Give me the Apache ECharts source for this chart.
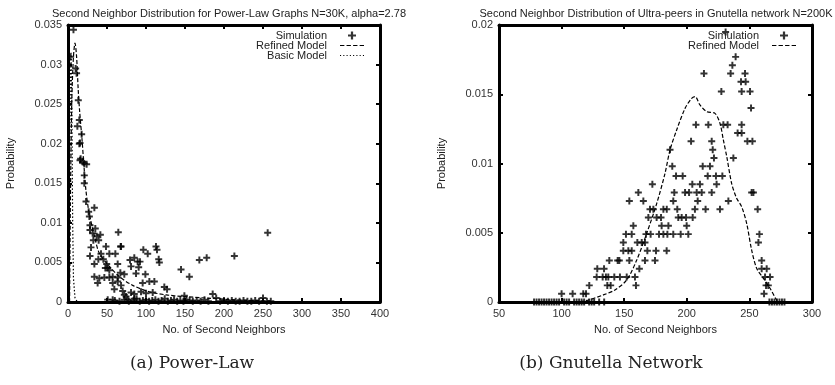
<!DOCTYPE html>
<html>
<head>
<meta charset="utf-8">
<script src="https://cdn.jsdelivr.net/npm/echarts@6/dist/echarts.min.js"></script>
<style>
  html, body { margin: 0; padding: 0; background: #fff; }
  #chart { width: 835px; height: 385px; }
</style>
</head>
<body>
<div id="chart"></div>
<script>
// (a) power-law graphs: simulation points
var plSimX = [7, 3.4, 9.8, 11, 13.2, 14.5, 12, 17.5, 15.4, 16.2,
  14.5, 15.4, 18.8, 20.9, 23.9, 20.9, 20.9, 23.1, 26.5, 33.8, 27.4, 28.2, 28.2, 35, 31.6,
  36.8, 41.5, 32.5, 39.3, 29.5, 48.7, 68, 64.5, 67.5, 28.2, 42.3, 53, 60.7, 38.9, 45.3, 33.8,
  49.6, 47.9, 79.5, 85, 89.3, 92.3, 80.8, 90.6, 96.6, 102.2, 112.8, 114.1, 116.3, 117.1,
  50.9, 53, 33.8, 40.2, 46.6, 53, 38, 63.7, 67.1, 72.2, 57.3, 63.7, 87.2, 99.2, 57.3, 63.7,
  68, 95.7, 104.3, 110.7, 59.4, 70.1, 80.8, 85, 123.5, 127, 144.9, 155.6, 168.4, 177.8,
  213.3, 256, 72.2, 74.4, 93.6, 100, 108.6, 149.2, 185.5, 50.9, 57.3, 76.5, 85,
  60, 66, 72, 78, 84, 88, 92, 96, 100, 104, 108, 112, 116, 120, 124, 128, 132, 136, 140,
  144, 148, 152, 156, 160, 165, 170, 175, 180, 190, 195, 200, 205, 210, 215, 220, 225,
  230, 235, 240, 245, 250, 255, 260];
var plSimY = [0.0344, 0.031, 0.0295, 0.0289, 0.0255, 0.023, 0.0222, 0.0212, 0.0201, 0.0181,
  0.020, 0.0179, 0.0177, 0.0175, 0.0174, 0.016, 0.015, 0.0127, 0.0114, 0.0119, 0.0108,
  0.0097, 0.0091, 0.0093, 0.0087, 0.0083, 0.0085, 0.0078, 0.0078, 0.0069, 0.007, 0.007,
  0.0088, 0.007, 0.0058, 0.0061, 0.0061, 0.0061, 0.0054, 0.0054, 0.0048, 0.0048, 0.0043,
  0.0053, 0.0056, 0.0051, 0.0051, 0.0045, 0.0044, 0.0066, 0.0061, 0.007, 0.0066, 0.0054,
  0.005, 0.0043, 0.004, 0.0032, 0.003, 0.0031, 0.0031, 0.0024, 0.0048, 0.0037, 0.0035,
  0.0032, 0.0031, 0.0036, 0.0035, 0.0024, 0.0026, 0.0021, 0.0024, 0.0026, 0.0026, 0.0016,
  0.0014, 0.0012, 0.001, 0.0019, 0.0016, 0.0041, 0.0032, 0.0053, 0.0056, 0.0058, 0.00875,
  0.0009, 0.0007, 0.0013, 0.0011, 0.0012, 0.0008, 0.001, 0.0003, 0.0003, 0.0003, 0.0004,
  0.0002, 0.0001, 0.0003, 0.0001, 0.0002, 0.0004, 0.0001, 0.0002, 0.0003, 0.0001, 0.0002,
  0.0003, 0.0001, 0.0002, 0.0004, 0.0001, 0.0002, 0.0003, 0.0001, 0.0002, 0.0001, 0.0003,
  0.0002, 0.0001, 0.0002, 0.0001, 0.0003, 0.0001, 0.0005, 0.0001, 0.0002, 0.0001, 0.0002,
  0.0001, 0.0001, 0.0002, 0.0001, 0.0001, 0.0002, 0.0001, 0.0005, 0.0001, 0.0001];

// (a) model curves
var plRefX = [2, 3, 4, 5, 7, 9, 11, 13, 15, 18, 20, 23, 27, 34, 40, 53, 66, 83, 104, 126, 147, 177, 210, 260];
var plRefY = [0, 0.012, 0.02, 0.026, 0.031, 0.0327, 0.031, 0.027, 0.024, 0.0205, 0.0178, 0.0141,
  0.0113, 0.0083, 0.0062, 0.0045, 0.0032, 0.0021, 0.0013, 0.0009, 0.0007, 0.0005, 0.0003, 0.0001];
var plBasicX = [1, 2, 3, 4, 5, 6, 7, 9, 12];
var plBasicY = [0, 0.015, 0.028, 0.0315, 0.024, 0.01, 0.003, 0.0005, 0];

// (b) gnutella: simulation points
var gnSimX = [231, 239, 236.4, 213.7, 235, 246.5, 243.3, 247, 227.6, 243.8, 250.5, 251.3,
  207.3, 217.2, 229.2, 232.6, 243.8, 240.6, 243.8, 203.4, 219.9, 248.4, 252.4, 186.6, 220.7,
  221.7, 237.2, 188.4, 212.7, 218.5, 191.4, 196.7, 216.7, 223.3, 228.4, 172.5, 204.4, 210.5,
  223.8, 161.3, 190, 198.6, 201.8, 207.9, 211.9, 219.9, 251.8, 253.2, 154.1, 165.3, 189.2,
  208.7, 233.2, 170.6, 173.3, 181.3, 184, 192.4, 206.5, 215, 226.5, 256.6, 169.3, 175.9,
  179.4, 193.2, 195.9, 199.4, 204.7, 157.3, 179.9, 185.3, 199.9, 151.4, 156, 167.4, 171.1,
  177.8, 181.3, 184.5, 189.2, 195.1, 201.2, 258, 149.3, 160.5, 164, 166.6, 257.2, 149.3,
  153.3, 156, 168.5, 175.4, 183.9, 138.1, 144.8, 146.1, 154.1, 166.6, 174.6, 259.8, 128.5,
  133.9, 162.1, 259.8, 263.8, 128, 132.8, 135.4, 137.3, 142.1, 146.6, 152, 158.6, 262.5,
  266.5, 122.1, 136.5, 139.2, 159.4, 263.3, 265.1, 100, 108.8, 117.3, 119.5, 261.7,
  78, 80, 82, 84, 86, 88, 90, 92, 94, 96, 98, 102, 104, 106, 110, 112, 114, 116, 118, 122,
  124, 126, 130, 134, 266, 268, 270, 272, 274, 276, 278];
var gnSimY = [0.0195, 0.0177, 0.0171, 0.0165, 0.0165, 0.0165, 0.0159, 0.0159, 0.0152,
  0.0152, 0.0152, 0.014, 0.0128, 0.0128, 0.0128, 0.0128, 0.0128, 0.0122, 0.0122, 0.0116,
  0.0116, 0.0116, 0.0116, 0.011, 0.011, 0.0104, 0.0104, 0.0098, 0.0098, 0.0098, 0.0091,
  0.0091, 0.0091, 0.0091, 0.0091, 0.0085, 0.0085, 0.0085, 0.0085, 0.0079, 0.0079, 0.0079,
  0.0079, 0.0079, 0.0079, 0.0079, 0.0079, 0.0079, 0.0073, 0.0073, 0.0073, 0.0073, 0.0073,
  0.0067, 0.0067, 0.0067, 0.0067, 0.0067, 0.0067, 0.0067, 0.0067, 0.0067, 0.0061, 0.0061,
  0.0061, 0.0061, 0.0061, 0.0061, 0.0061, 0.0055, 0.0055, 0.0055, 0.0055, 0.0049, 0.0049,
  0.0049, 0.0049, 0.0049, 0.0049, 0.0049, 0.0049, 0.0049, 0.0049, 0.0049, 0.0043, 0.0043,
  0.0043, 0.0043, 0.0043, 0.0037, 0.0037, 0.0037, 0.0037, 0.0037, 0.0037, 0.003, 0.003,
  0.003, 0.003, 0.003, 0.003, 0.003, 0.0024, 0.0024, 0.0024, 0.0024, 0.0024, 0.0018,
  0.0018, 0.0018, 0.0018, 0.0018, 0.0018, 0.0018, 0.0018, 0.0018, 0.0018, 0.0012, 0.0012,
  0.0012, 0.0012, 0.0012, 0.0012, 0.0006, 0.0006, 0.0006, 0.0006, 0.0006,
  0, 0, 0, 0, 0, 0, 0, 0, 0, 0, 0, 0, 0, 0, 0, 0, 0, 0, 0, 0, 0, 0, 0, 0, 0, 0, 0, 0, 0, 0, 0];

// (b) refined model
var gnRefX = [105, 115, 121.3, 133.3, 142.6, 152, 160, 168, 176, 182.6, 186.6, 191.9, 198.6,
  203.9, 206.6, 210.5, 215.9, 222.5, 226.5, 229.2, 231.9, 235.8, 239.8, 243.8, 247.8, 251.8,
  255.8, 261.2, 266.5, 271.8, 274];
var gnRefY = [0, 0.00003, 0.00014, 0.00051, 0.00087, 0.00159, 0.00303, 0.00496, 0.00712,
  0.00929, 0.01098, 0.01242, 0.01398, 0.01471, 0.01483, 0.01423, 0.01374, 0.01362, 0.0129,
  0.0117, 0.0105, 0.00857, 0.00749, 0.00688, 0.00568, 0.00375, 0.00243, 0.00171, 0.00099,
  0.00014, 0];

function zip(xs, ys) {
  return xs.map(function (x, i) { return [x, ys[i]]; });
}

var plus = 'path://M3.6,0H6.4V3.6H10V6.4H6.4V10H3.6V6.4H0V3.6H3.6Z';
var dashIcon = 'path://M0,0H4V1.1H0ZM6,0H10V1.1H6ZM12,0H16V1.1H12ZM18,0H22V1.1H18Z';
var dotIcon = 'path://M0,0H1V1.1H0ZM3,0H4V1.1H3ZM6,0H7V1.1H6ZM9,0H10V1.1H9ZM12,0H13V1.1H12ZM15,0H16V1.1H15ZM18,0H19V1.1H18ZM21,0H22V1.1H21Z';
var font = 'Liberation Sans, Arial, sans-serif';

function bottomAxis(grid, min, max, step) {
  return {
    type: 'value', gridIndex: grid, min: min, max: max, interval: step,
    name: 'No. of Second Neighbors', nameLocation: 'middle', nameGap: 22,
    nameTextStyle: { fontSize: 11, color: '#222', fontFamily: font },
    axisLine: { onZero: false, lineStyle: { color: '#000', width: 3 } },
    axisTick: { inside: true, length: 4, lineStyle: { color: '#000', width: 2 } },
    axisLabel: { fontSize: 11, color: '#333', fontFamily: font, margin: 6 },
    splitLine: { show: false }
  };
}
function topAxis(grid, min, max, step) {
  return {
    type: 'value', gridIndex: grid, position: 'top', min: min, max: max, interval: step,
    axisLine: { onZero: false, lineStyle: { color: '#000', width: 3 } },
    axisTick: { inside: true, length: 4, lineStyle: { color: '#000', width: 2 } },
    axisLabel: { show: false }, splitLine: { show: false }
  };
}
function leftAxis(grid, max) {
  return {
    type: 'value', gridIndex: grid, min: 0, max: max, interval: 0.005,
    name: 'Probability', nameLocation: 'middle', nameGap: 52,
    nameTextStyle: { fontSize: 11, color: '#222', fontFamily: font },
    axisLine: { show: true, onZero: false, lineStyle: { color: '#000', width: 3 } },
    axisTick: { show: true, inside: true, length: 4, lineStyle: { color: '#000', width: 2 } },
    axisLabel: { fontSize: 11, color: '#333', fontFamily: font, margin: 6 },
    splitLine: { show: false }
  };
}
function rightAxis(grid, max) {
  return {
    type: 'value', gridIndex: grid, position: 'right', min: 0, max: max, interval: 0.005,
    axisLine: { show: true, onZero: false, lineStyle: { color: '#000', width: 3 } },
    axisTick: { show: true, inside: true, length: 4, lineStyle: { color: '#000', width: 2 } },
    axisLabel: { show: false }, splitLine: { show: false }
  };
}

var legendText = { fontSize: 11, color: '#222', fontFamily: font, lineHeight: 10, padding: [0, 8, 0, 0] };

var chart = echarts.init(document.getElementById('chart'));
var option = {
  animation: false,
  backgroundColor: '#fff',
  textStyle: { fontFamily: font },
  title: [
    { text: 'Second Neighbor Distribution for Power-Law Graphs N=30K, alpha=2.78',
      left: 224, top: 3, textAlign: 'center',
      textStyle: { fontSize: 11, fontWeight: 'normal', color: '#222', fontFamily: font } },
    { text: 'Second Neighbor Distribution of Ultra-peers in Gnutella network N=200K',
      left: 651, top: 3, textAlign: 'center',
      textStyle: { fontSize: 11, fontWeight: 'normal', color: '#222', fontFamily: font } },
    { text: '(a) Power-Law', left: 187, top: 350, textAlign: 'center',
      textStyle: { fontSize: 17, fontWeight: 'normal', color: '#222', fontFamily: 'DejaVu Serif, Liberation Serif, serif' } },
    { text: '(b) Gnutella Network', left: 606, top: 350, textAlign: 'center',
      textStyle: { fontSize: 17, fontWeight: 'normal', color: '#222', fontFamily: 'DejaVu Serif, Liberation Serif, serif' } }
  ],
  legend: [
    { data: [{ name: 'Simulation', icon: plus }, { name: 'Refined Model', icon: dashIcon },
        { name: 'Basic Model', icon: dotIcon }],
      orient: 'vertical', align: 'right', right: 466, top: 25,
      itemWidth: 24, itemHeight: 8, itemGap: -1, textStyle: legendText },
    { data: [{ name: 'Simulation', icon: plus }, { name: 'Refined Model', icon: dashIcon }],
      orient: 'vertical', align: 'right', right: 34, top: 25,
      itemWidth: 24, itemHeight: 8, itemGap: -1, textStyle: legendText }
  ],
  grid: [
    { left: 68, top: 25, width: 312, height: 277 },
    { left: 499, top: 25, width: 313, height: 277 }
  ],
  xAxis: [
    bottomAxis(0, 0, 400, 50), topAxis(0, 0, 400, 50),
    bottomAxis(1, 50, 300, 50), topAxis(1, 50, 300, 50)
  ],
  yAxis: [
    leftAxis(0, 0.035), rightAxis(0, 0.035),
    leftAxis(1, 0.02), rightAxis(1, 0.02)
  ],
  series: [
    { name: 'Simulation', type: 'scatter', xAxisIndex: 0, yAxisIndex: 0,
      symbol: plus, symbolSize: 7, itemStyle: { color: '#000' },
      data: zip(plSimX, plSimY) },
    { name: 'Refined Model', type: 'line', xAxisIndex: 0, yAxisIndex: 0,
      showSymbol: false, symbol: 'none', smooth: 0.3, itemStyle: { color: '#000' },
      lineStyle: { color: '#000', width: 1.2, type: [4, 2] },
      data: zip(plRefX, plRefY) },
    { name: 'Basic Model', type: 'line', xAxisIndex: 0, yAxisIndex: 0,
      showSymbol: false, symbol: 'none', itemStyle: { color: '#000' },
      lineStyle: { color: '#000', width: 1.2, type: [1.5, 2] },
      data: zip(plBasicX, plBasicY) },
    { name: 'Simulation', type: 'scatter', xAxisIndex: 2, yAxisIndex: 2,
      symbol: plus, symbolSize: 7, itemStyle: { color: '#000' },
      data: zip(gnSimX, gnSimY) },
    { name: 'Refined Model', type: 'line', xAxisIndex: 2, yAxisIndex: 2,
      showSymbol: false, symbol: 'none', smooth: 0.3, itemStyle: { color: '#000' },
      lineStyle: { color: '#000', width: 1.2, type: [4, 2] },
      data: zip(gnRefX, gnRefY) }
  ]
};
chart.setOption(option);
</script>
</body>
</html>
